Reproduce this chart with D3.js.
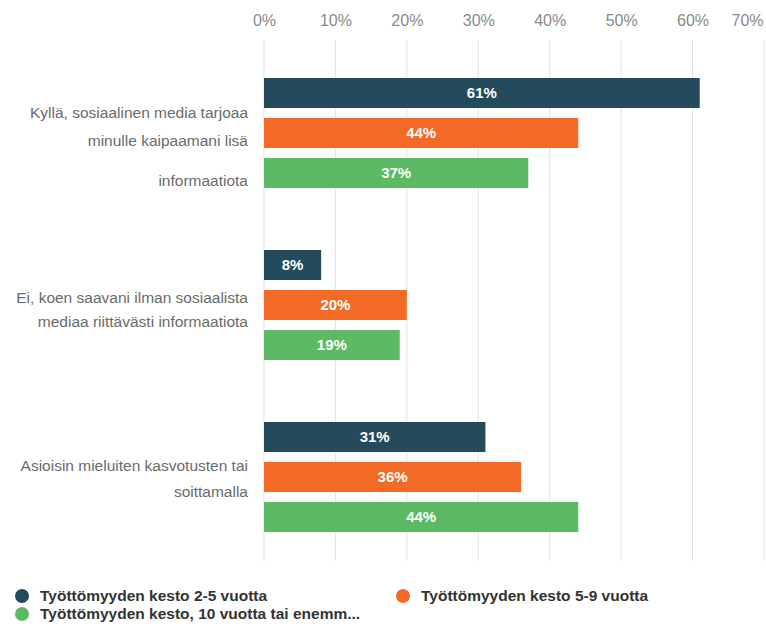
<!DOCTYPE html>
<html>
<head>
<meta charset="utf-8">
<script src="https://cdn.jsdelivr.net/npm/d3@7"></script>
<style>
  html, body { margin: 0; padding: 0; background: #fff; }
  svg { display: block; font-family: "Liberation Sans", Arial, sans-serif; }
</style>
</head>
<body>
<svg id="chart" width="766" height="626"></svg>
<script>
// Answer categories, each split into display lines
const categories = [
  ["Kyllä, sosiaalinen media tarjoaa", "minulle kaipaamani lisä", "informaatiota"],
  ["Ei, koen saavani ilman sosiaalista", "mediaa riittävästi informaatiota"],
  ["Asioisin mieluiten kasvotusten tai", "soittamalla"]
];
const seriesNames = [
  "Työttömyyden kesto 2-5 vuotta",
  "Työttömyyden kesto 5-9 vuotta",
  "Työttömyyden kesto, 10 vuotta tai enemm..."
];
const dur2to5 = [61, 8, 31];
const dur5to9 = [44, 20, 36];
const dur10plus = [37, 19, 44];
const tickValues = [0, 10, 20, 30, 40, 50, 60, 70];
const colors = ["#244b5b", "#f26a25", "#5cb964"];

const series = [dur2to5, dur5to9, dur10plus];
const svg = d3.select("#chart");

const x = d3.scaleLinear().domain([0, 70]).range([264, 764]);
const y = d3.scaleBand().domain(d3.range(categories.length)).range([48, 564]).paddingInner(0.0);
const inner = d3.scaleBand().domain(d3.range(series.length)).range([0, 110]).paddingInner(0.25);

// vertical grid lines
svg.append("g").selectAll("line").data(tickValues).join("line")
  .attr("x1", d => x(d)).attr("x2", d => x(d))
  .attr("y1", 40).attr("y2", 561)
  .attr("stroke", "#e3e3e3").attr("stroke-width", 1);

// top axis labels
const axis = d3.axisTop(x).tickValues(tickValues).tickFormat(d => d + "%").tickSize(0).tickPadding(0);
const ag = svg.append("g").attr("transform", "translate(0,26)").call(axis);
ag.select(".domain").remove();
ag.selectAll("text")
  .attr("fill", "#8a8a8a").attr("font-size", 16)
  .attr("font-family", "Liberation Sans, Arial, sans-serif")
  .attr("dx", d => d === 70 ? -17 : 0);

// grouped bars
const groups = svg.append("g").selectAll("g").data(categories).join("g")
  .attr("transform", (d, i) => `translate(0,${y(i) + 30})`);

groups.each(function(cat, ci) {
  const g = d3.select(this);
  series.forEach((vals, si) => {
    const v = vals[ci];
    g.append("rect")
      .attr("x", x(0)).attr("y", inner(si))
      .attr("width", x(v) - x(0)).attr("height", inner.bandwidth())
      .attr("fill", colors[si]);
    g.append("text")
      .attr("x", (x(0) + x(v)) / 2).attr("y", inner(si) + inner.bandwidth() / 2)
      .attr("dy", "0.35em").attr("text-anchor", "middle")
      .attr("fill", "#fff").attr("font-size", 15).attr("font-weight", "bold")
      .text(v + "%");
  });
});

// category labels (line offsets from group top)
const lineOffsets = [[35, 63, 103], [48, 72], [44, 70]];
groups.each(function(cat, ci) {
  const g = d3.select(this);
  cat.forEach((line, li) => {
    g.append("text")
      .attr("x", 248).attr("y", lineOffsets[ci][li])
      .attr("dy", "0.35em").attr("text-anchor", "end")
      .attr("fill", "#6b6b6b").attr("font-size", 15.5)
      .text(line);
  });
});

// legend
const legendPos = [[22, 596], [403, 596], [22, 614]];
const lg = svg.append("g").selectAll("g").data(seriesNames).join("g")
  .attr("transform", (d, i) => `translate(${legendPos[i][0]},${legendPos[i][1]})`);
lg.append("circle").attr("r", 7).attr("fill", (d, i) => colors[i]);
lg.append("text").attr("x", 18).attr("dy", "0.35em")
  .attr("fill", "#333").attr("font-size", 15.5).attr("font-weight", "bold")
  .text(d => d);
</script>
</body>
</html>
